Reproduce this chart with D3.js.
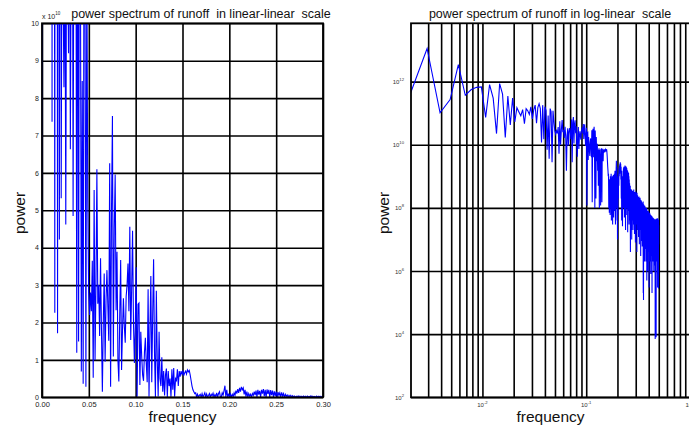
<!DOCTYPE html>
<html>
<head>
<meta charset="utf-8">
<script src="https://cdn.jsdelivr.net/npm/d3@7"></script>
<style>
  body { margin: 0; background: #fff; }
  svg { display: block; font-family: "Liberation Sans", Arial, sans-serif; }
  .keep-space { white-space: pre; }
</style>
</head>
<body>
<div id="chart"></div>
<script>
// frequency step of the spectrum (sample k sits at k * df)
const df = 1 / 1024;

// power of runoff, in units of 1e10
const power = [
  1.0, 20, 31, 1120, 10.3, 27, 347, 37, 56, 66,                 // 0
  68, 7.37, 81, 30, 2.26, 87, 40, 1.71, 35, 4.22,               // 10
  30, 5.32, 15, 11, 8.29, 13, 4.62, 14, 12, 9.2,                // 20
  16, 6.63, 13, 18, 4.85, 15, 20, 14, 1.19, 18,                 // 30
  1.49, 16, 12, 0.69, 8.46, 0.36, 14, 11, 0.28, 12,             // 40
  5.35, 2.8, 2.2, 2.8, 2.3, 3.65, 0.52, 5.54, 1.0, 3.0,         // 50
  6.1, 2.5, 3.0, 1.64, 3.72, 1.8, 0.15, 2.0, 3.31, 0.95,        // 60
  2.6, 3.4, 2.42, 1.51, 6.26, 0.28, 5.0, 7.52, 1.09, 4.5,       // 70
  5.96, 2.33, 3.89, 1.0, 0.42, 2.2, 3.67, 0.73, 1.8, 2.65,      // 80
  1.9, 1.46, 2.7, 3.0, 3.58, 2.3, 4.56, 1.53, 2.9, 4.45,        // 90
  2.0, 0.92, 1.9, 3.48, 0.012, 2.49, 2.52, 0.33, 1.75, 1.1,     // 100
  0.6, 0.44, 1.2, 1.59, 0.9, 0.4, 2.89, 0.015, 1.8, 3.24,       // 110
  0.4, 2.2, 3.69, 1.2, 0.01, 2.85, 1.0, 0.02, 1.75, 0.5,        // 120
  0.3, 1.07, 0.15, 0.7, 0.05, 0.6, 0.77, 0.01, 0.7, 0.3,        // 130
  0.5, 0.012, 0.75, 0.2, 0.78, 0.015, 0.5, 0.45, 0.75, 0.3,     // 140
  0.7, 0.55, 0.7, 0.62, 0.72, 0.58, 0.66, 0.7, 0.62, 0.73,      // 150
  0.68, 0.72, 0.6, 0.45, 0.3, 0.2, 0.15, 0.1, 0.12, 0.01,       // 160
  0.08, 0.007, 0.05, 0.08, 0.006, 0.1, 0.01, 0.06, 0.12, 0.004, // 170
  0.09, 0.007, 0.05, 0.1, 0.003, 0.08, 0.04, 0.11, 0.005, 0.07, // 180
  0.02, 0.12, 0.008, 0.1, 0.15, 0.01, 0.003, 0.12, 0.06, 0.18,  // 190
  0.31, 0.01, 0.2, 0.004, 0.1, 0.001, 0.09, 0.006, 0.08, 0.02,  // 200
  0.12, 0.05, 0.18, 0.1, 0.22, 0.12, 0.25, 0.15, 0.28, 0.2,     // 210
  0.25, 0.08, 0.2, 0.02, 0.15, 0.004, 0.1, 0.03, 0.08, 0.0026,  // 220
  0.1, 0.05, 0.15, 0.06, 0.18, 0.01, 0.2, 0.07, 0.17, 0.005,    // 230
  0.2, 0.1, 0.22, 0.03, 0.2, 0.002, 0.21, 0.09, 0.2, 0.006,     // 240
  0.19, 0.06, 0.18, 0.01, 0.16, 0.04, 0.15, 0.0017, 0.14, 0.05, // 250
  0.12, 0.008, 0.13, 0.03, 0.1, 0.003, 0.08, 0.02, 0.06, 0.004, // 260
  0.05, 0.012, 0.05, 0.0004, 0.04, 0.01, 0.035, 0.002, 0.03, 0.008,      // 270
  0.038, 0.001, 0.032, 0.006, 0.03, 0.004, 0.035, 0.012, 0.028, 0.002,   // 280
  0.033, 0.008, 0.025, 0.015, 0.038, 0.003, 0.03, 0.01, 0.022, 0.0015,   // 290
  0.032, 0.006, 0.027, 0.012, 0.03, 0.0008, 0.025, 0.009, 0.033, 0.004,  // 300
  0.02, 0.011, 0.028, 0.003, 0.024, 0.0004, 0.03, 0.007, 0.02, 0.013,    // 310
  0.025, 0.002, 0.018, 0.006, 0.022, 0.009, 0.016, 0.0012, 0.02, 0.005,  // 320
  0.023, 0.011, 0.015, 0.0007, 0.019, 0.004, 0.017, 0.008, 0.021, 0.002, // 330
  0.014, 0.006, 0.018, 0.0003, 0.016, 0.005, 0.013, 0.0009, 0.017, 0.007,  // 340
  0.012, 0.002, 0.015, 0.004, 0.011, 0.0006, 0.014, 0.005, 0.013, 0.0015,  // 350
  0.012, 0.003, 0.016, 0.00002, 0.01, 0.000012, 0.013, 0.004, 0.011, 0.0008, // 360
  0.012, 0.003, 0.009, 0.0002, 0.012, 0.002, 0.008, 0.005, 0.011, 0.0005,  // 370
  0.009, 0.003, 0.01, 0.0012, 0.008, 0.0002, 0.009, 0.002, 0.007, 0.004,   // 380
  0.01, 0.0006, 0.008, 0.00005, 0.009, 0.0025, 0.007, 0.0009, 0.008, 0.003, // 390
  0.006, 0.0001, 0.0075, 0.0015, 0.0065, 0.003, 0.008, 0.0004, 0.006, 0.002, // 400
  0.0072, 0.0007, 0.005, 0.00003, 0.0068, 0.0018, 0.006, 0.0008, 0.007, 0.0025, // 410
  0.0055, 0.0002, 0.0065, 0.0012, 0.005, 0.0004, 0.006, 0.002, 0.0048, 0.00008, // 420
  0.0058, 0.0015, 0.0052, 0.0006, 0.0045, 0.0021, 0.0056, 0.0003, 0.005, 0.0012, // 430
  0.0042, 0.00002, 0.0053, 0.0009, 0.0046, 0.0017, 0.0038, 0.0005, 0.005, 0.0011, // 440
  0.0044, 0.0002, 0.0048, 0.0014, 0.004, 0.0006, 0.0046, 0.0019, 0.0035, 0.0001,  // 450
  0.0045, 0.0009, 0.0041, 0.0013, 0.0038, 0.0004, 0.0043, 0.0016, 0.0036, 0.00015, // 460
  0.0044, 0.0008, 0.0039, 0.0000007, 0.0041, 0.0012, 0.0034, 0.0005, 0.0043, 0.0018, // 470
  0.0037, 0.0003, 0.004, 0.0000008, 0.0045, 0.0011, 0.0036, 0.0006, 0.0042, 0.0015,  // 480
  0.0033, 0.0002, 0.0046, 0.0009, 0.0038, 0.0004, 0.0044, 0.0013, 0.0035, 0.00003,   // 490
  0.0047, 0.0008, 0.004, 0.0016, 0.0036, 0.0005, 0.0043, 0.0011, 0.0039, 0.000028,   // 500
  0.0041, 0.0007, 0.0028                                                           // 510
];

// axis ticks
const linXTicks = [0, 0.05, 0.1, 0.15, 0.2, 0.25, 0.3];
const linYTicks = [0, 1, 2, 3, 4, 5, 6, 7, 8, 9, 10];
const logXLabels = [0.01, 0.1, 1];
const logXGrid = [0.003, 0.004, 0.005, 0.006, 0.007, 0.008, 0.009, 0.01,
                  0.02, 0.03, 0.04, 0.05, 0.06, 0.07, 0.08, 0.09, 0.1,
                  0.2, 0.3, 0.4, 0.5, 0.6, 0.7, 0.8, 0.9, 1];
const logYTicks = [1e2, 1e4, 1e6, 1e8, 1e10, 1e12];

const titles = ["power spectrum of runoff  in linear-linear  scale",
                "power spectrum of runoff in log-linear  scale"];

// Dimensions
const width = 689;
const height = 430;
const left = {x: 42, y: 23.3, w: 281, h: 374};
const right = {x: 411, y: 23.3, w: 279, h: 374};

const spectrum = power.map((p, k) => ({f: k * df, p: p}));

const svg = d3.select("#chart")
  .append("svg")
    .attr("width", width)
    .attr("height", height);

const defs = svg.append("defs");
[["clip-lin", left], ["clip-log", right]].forEach(([id, r]) => {
  defs.append("clipPath").attr("id", id)
    .append("rect")
      .attr("x", r.x).attr("y", r.y)
      .attr("width", r.w).attr("height", r.h);
});

// Scales
const xLin = d3.scaleLinear().domain([0, 0.3]).range([left.x, left.x + left.w]);
const yLin = d3.scaleLinear().domain([0, 10]).range([left.y + left.h, left.y]);
const xLog = d3.scaleLog().domain([0.00205, 1]).range([right.x, right.x + right.w]);
const yLog = d3.scaleLog().domain([1e2, Math.pow(10, 13.848)]).range([right.y + right.h, right.y]);

const gridStyle = g => {
  g.select(".domain").remove();
  g.selectAll(".tick line").attr("stroke", "#000").attr("stroke-width", 1.6);
  g.selectAll(".tick text").attr("fill", "#222");
};

// ---- left panel: linear-linear ----
svg.append("g")
    .attr("transform", `translate(0, ${left.y + left.h})`)
    .call(d3.axisBottom(xLin).tickValues(linXTicks).tickSize(-left.h).tickPadding(4))
    .call(gridStyle)
    .call(g => g.selectAll(".tick text").attr("font-size", 7.5).attr("font-family", "Liberation Sans, Arial"));

svg.append("g")
    .attr("transform", `translate(${left.x}, 0)`)
    .call(d3.axisLeft(yLin).tickValues(linYTicks).tickSize(-left.w).tickPadding(3))
    .call(gridStyle)
    .call(g => g.selectAll(".tick text").attr("font-size", 7).attr("font-family", "Liberation Sans, Arial"));

svg.append("path")
  .datum(spectrum.filter(d => d.f <= 0.31))
    .attr("clip-path", "url(#clip-lin)")
    .attr("fill", "none")
    .attr("stroke", "#0000ff")
    .attr("stroke-width", 1.1)
    .attr("d", d3.line().x(d => xLin(d.f)).y(d => yLin(d.p)));

svg.append("rect")
    .attr("x", left.x).attr("y", left.y)
    .attr("width", left.w).attr("height", left.h)
    .attr("fill", "none").attr("stroke", "#000").attr("stroke-width", 1.8);

// exponent note above y axis
const expNote = svg.append("text")
    .attr("x", 42).attr("y", 18.5)
    .attr("font-size", 7).attr("fill", "#222");
expNote.append("tspan").text("x 10");
expNote.append("tspan").attr("dy", -4).attr("font-size", 4.5).text("10");

// ---- right panel: log-linear ----
svg.append("g")
    .attr("transform", `translate(0, ${right.y + right.h})`)
    .call(d3.axisBottom(xLog).tickValues(logXGrid).tickSize(-right.h).tickFormat(""))
    .call(gridStyle);

svg.append("g")
    .attr("transform", `translate(${right.x}, 0)`)
    .call(d3.axisLeft(yLog).tickValues(logYTicks).tickSize(-right.w).tickFormat(""))
    .call(gridStyle);

svg.append("path")
  .datum(spectrum.filter(d => d.f > 0))
    .attr("clip-path", "url(#clip-log)")
    .attr("fill", "none")
    .attr("stroke", "#0000ff")
    .attr("stroke-width", 1.1)
    .attr("d", d3.line().x(d => xLog(d.f)).y(d => yLog(d.p * 1e10)));

svg.append("rect")
    .attr("x", right.x).attr("y", right.y)
    .attr("width", right.w).attr("height", right.h)
    .attr("fill", "none").attr("stroke", "#000").attr("stroke-width", 1.8);

// power-of-ten labels
logYTicks.forEach(v => {
  const t = svg.append("text")
      .attr("x", 404).attr("y", yLog(v) + 2.5)
      .attr("text-anchor", "end")
      .attr("font-size", 6).attr("fill", "#333");
  t.append("tspan").text("10");
  t.append("tspan").attr("dy", -3).attr("font-size", 4.2).text(Math.round(Math.log10(v)));
});

logXLabels.forEach(v => {
  const t = svg.append("text")
      .attr("x", xLog(v)).attr("y", 407)
      .attr("text-anchor", "middle")
      .attr("font-size", 6).attr("fill", "#333");
  t.append("tspan").text("10");
  t.append("tspan").attr("dy", -3).attr("font-size", 4.2).text(Math.round(Math.log10(v)));
});

// titles and axis labels
[[left, titles[0], 201], [right, titles[1], 550]].forEach(([r, title, cx]) => {
  svg.append("text")
      .attr("class", "keep-space")
      .attr("x", cx).attr("y", 17.5)
      .attr("text-anchor", "middle")
      .attr("font-size", 12.5).attr("fill", "#111")
      .text(title);
  svg.append("text")
      .attr("x", r.x + r.w / 2).attr("y", 422)
      .attr("text-anchor", "middle")
      .attr("font-size", 15.5).attr("fill", "#111")
      .text("frequency");
});

svg.append("text")
    .attr("transform", "translate(25, 213) rotate(-90)")
    .attr("text-anchor", "middle")
    .attr("font-size", 15.5).attr("fill", "#111")
    .text("power");

svg.append("text")
    .attr("transform", "translate(388.5, 213) rotate(-90)")
    .attr("text-anchor", "middle")
    .attr("font-size", 15.5).attr("fill", "#111")
    .text("power");
</script>
</body>
</html>
